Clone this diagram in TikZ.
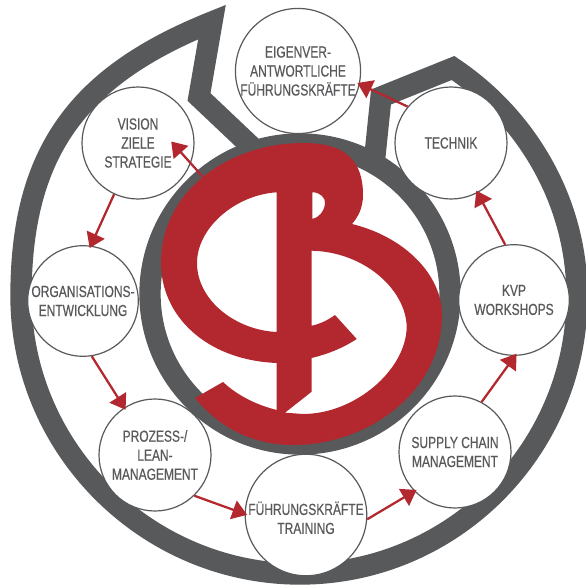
\documentclass[tikz,border=0pt]{standalone}
\usepackage{fontspec}
\setmainfont[FakeStretch=0.75,FakeBold=0.45]{Liberation Sans}
\usetikzlibrary{arrows.meta}
\definecolor{ringgrey}{HTML}{58595B}
\definecolor{logored}{HTML}{B2282E}
\tikzset{
	kreis/.style={circle,draw=ringgrey,line width=0.9pt,fill=white,text=ringgrey,inner sep=0pt,align=center,font=\fontsize{12}{14.25}\selectfont},
	ring/.style={draw=ringgrey,line width=16pt,line join=miter},
	pfeil/.style={draw=logored,fill=logored,line width=1.7pt,shorten >=-2pt,-{Triangle[length=11pt,width=14.5pt]}}
}
\begin{document}
\begin{tikzpicture}[x=0.75pt,y=-0.75pt]
\useasboundingbox (0,0) rectangle (586,585);
% outer ring
\draw [ring] (255,150) -- (199,97) -- (212,22)
	.. controls (80,75) and (21,150) .. (21,296)
	.. controls (21,449) and (147,574) .. (300,574)
	.. controls (453,574) and (577,449) .. (577,296)
	.. controls (577,204) and (529,119) .. (453,68)
	-- (381,97) -- (374,165);
% inner ring
\draw [ring] (300,294) circle (150);
% logo
\fill [logored,even odd rule] (195,398) -- (223,382) .. controls (238,396) and (257,405) .. (276.7,410) -- (276.7,363)
	.. controls (205,360) and (161,315) .. (161,263)
	.. controls (161,190) and (230,143) .. (303,143)
	.. controls (345,143) and (363,160) .. (363,195)
	.. controls (363,208) and (358,217) .. (352,224)
	.. controls (405,237) and (442,275) .. (442,315)
	.. controls (442,390) and (370,445) .. (293,445)
	.. controls (250,445) and (217,425) .. (195,398) -- cycle
	(276.7,192.3) .. controls (235,195) and (197,228) .. (197,263) .. controls (197,300) and (235,330) .. (276.7,332) -- cycle
	(312.3,192.3) .. controls (320,192) and (326,198) .. (325,204) .. controls (324,212) and (318,218) .. (312.3,219) -- cycle
	(311.7,250.7) .. controls (365,252) and (406,290) .. (406.7,327) .. controls (406,370) and (355,414) .. (303,414)
	-- (285,412.7) -- (311.7,391.7) -- (311.7,358) .. controls (328,354) and (343,348) .. (356.7,339) -- (335,315)
	.. controls (328,320) and (320,324) .. (311.7,325.7) -- cycle;
% stations
\coordinate (logo) at (203,177);
\coordinate (logotip) at (173,143.5);
\node[kreis,minimum size=84pt] (vision) at (138,143) {VISION\\ZIELE\\STRATEGIE};
\node[kreis,minimum size=83pt] (org) at (83,301) {ORGANISATIONS-\\ENTWICKLUNG};
\node[kreis,minimum size=84pt] (prozess) at (155,455) {PROZESS-/\\LEAN-\\MANAGEMENT};
\node[kreis,minimum size=89pt] (training) at (306,515) {~\\FÜHRUNGSKRÄFTE\\TRAINING};
\node[kreis,minimum size=84pt] (supply) at (455,452) {SUPPLY CHAIN\\MANAGEMENT};
\node[kreis,minimum size=83pt] (kvp) at (514,300) {KVP\\WORKSHOPS};
\node[kreis,minimum size=84pt] (technik) at (451,143) {TECHNIK};
\node[kreis,minimum size=92pt] (eigen) at (298,71) {EIGENVER-\\ANTWORTLICHE\\FÜHRUNGSKRÄFTE};
% arrows
\foreach \a/\b in {logo/logotip,vision.245/org.82,org.-81/prozess.123,prozess.-46/training.179,training.-4/supply.224,supply.62/kvp.271,kvp.99/technik.-62,technik.140/eigen.-12}
	\draw [pfeil] (\a) -- (\b);
\end{tikzpicture}
\end{document}
